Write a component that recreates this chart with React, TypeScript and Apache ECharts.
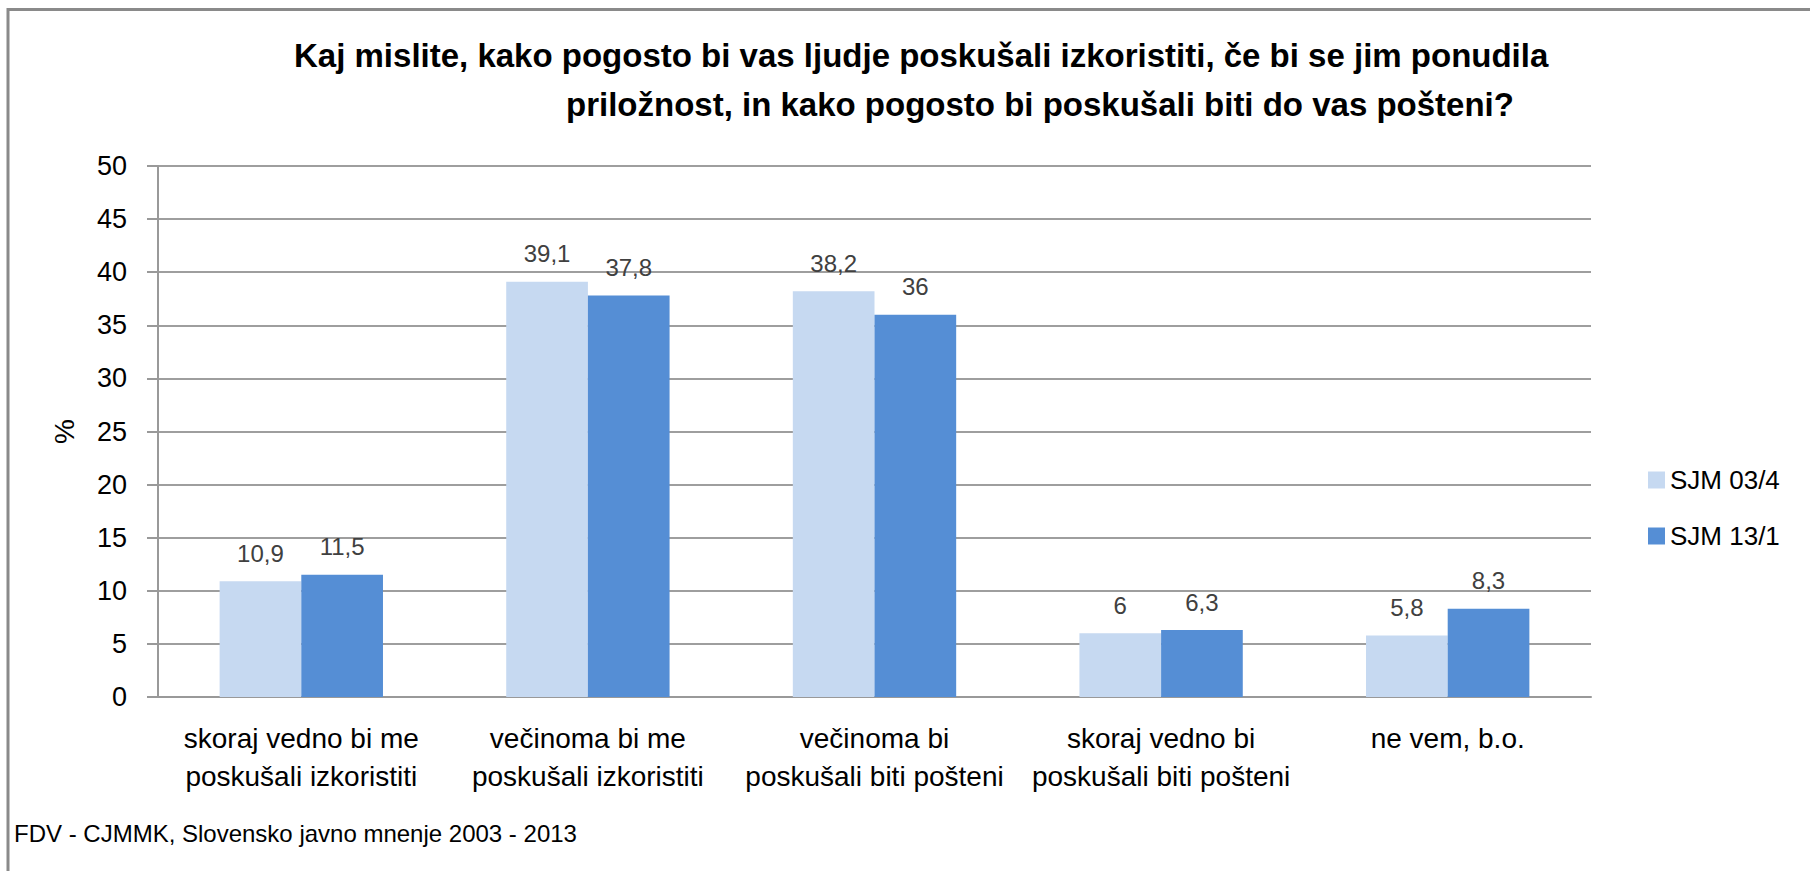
import React, { useEffect, useRef } from "react";
import * as echarts from "echarts";

const categories: string[] = [
  "skoraj vedno bi me\nposkušali izkoristiti",
  "večinoma bi me\nposkušali izkoristiti",
  "večinoma bi\nposkušali biti pošteni",
  "skoraj vedno bi\nposkušali biti pošteni",
  "ne vem, b.o.",
];
const seriesNames: string[] = ["SJM 03/4", "SJM 13/1"];
const sjm034: number[] = [10.9, 39.1, 38.2, 6, 5.8];
const sjm131: number[] = [11.5, 37.8, 36, 6.3, 8.3];
const yMin = 0;
const yMax = 50;
const yStep = 5;
const titleLine1 = "Kaj mislite, kako pogosto bi vas ljudje poskušali izkoristiti, če bi se jim ponudila";
const titleLine2 = "priložnost, in kako pogosto bi poskušali biti do vas pošteni?";
const sourceText = "FDV - CJMMK, Slovensko javno mnenje 2003 - 2013";
const yAxisName = "%";

const FONT = "'Liberation Sans', Arial, sans-serif";
const colors = ["#c6d9f1", "#558ed5"];

export default function App() {
  const ref = useRef<HTMLDivElement>(null);
  useEffect(() => {
    if (!ref.current) return;
    const chart = echarts.init(ref.current, undefined, { renderer: "svg" });
    const fmt = (p: any) => String(p.value).replace(".", ",");
    const mkSeries = (name: string, data: number[], color: string) => ({
      name,
      type: "bar",
      data,
      barGap: "0%",
      barCategoryGap: "43%",
      itemStyle: { color },
      label: {
        show: true,
        position: "top",
        distance: 16,
        formatter: fmt,
        color: "#404040",
        fontSize: 24,
        fontFamily: FONT,
      },
    });
    chart.setOption({
      animation: false,
      backgroundColor: "#ffffff",
      color: colors,
      grid: { left: 158, right: 219, top: 166, bottom: 174, containLabel: false },
      legend: {
        orient: "vertical",
        left: 1643,
        top: 461,
        itemWidth: 17,
        itemHeight: 17,
        itemGap: 28,
        icon: "rect",
        data: seriesNames,
        textStyle: { fontSize: 26, lineHeight: 28, color: "#000", fontFamily: FONT },
      },
      xAxis: {
        type: "category",
        data: categories,
        axisLine: { show: true, lineStyle: { color: "#999999", width: 2 } },
        axisTick: { show: false },
        axisLabel: {
          interval: 0,
          margin: 22,
          fontSize: 28,
          lineHeight: 38,
          color: "#000",
          fontFamily: FONT,
        },
      },
      yAxis: {
        type: "value",
        min: yMin,
        max: yMax,
        interval: yStep,
        name: yAxisName,
        nameLocation: "middle",
        nameGap: 80,
        nameTextStyle: { fontSize: 28, color: "#000", fontFamily: FONT },
        axisLine: { show: true, lineStyle: { color: "#999999", width: 2 } },
        axisTick: { show: true, length: 11, lineStyle: { color: "#999999", width: 2 } },
        axisLabel: { margin: 31, fontSize: 27, color: "#000", fontFamily: FONT },
        splitLine: { show: true, lineStyle: { color: "#9e9e9e", width: 2 } },
      },
      graphic: [
        {
          type: "rect",
          shape: { x: 8, y: 9.5, width: 1850, height: 900 },
          style: { fill: "none", stroke: "#8a8a8a", lineWidth: 3 },
          silent: true,
        },
        {
          type: "text",
          x: 294,
          y: 55,
          style: {
            text: titleLine1,
            fontSize: 33,
            fontWeight: "bold",
            fontFamily: FONT,
            fill: "#000",
            textAlign: "left",
            textVerticalAlign: "middle",
            align: "left",
            verticalAlign: "middle",
          },
        },
        {
          type: "text",
          x: 566,
          y: 104,
          style: {
            text: titleLine2,
            fontSize: 33,
            fontWeight: "bold",
            fontFamily: FONT,
            fill: "#000",
            textAlign: "left",
            textVerticalAlign: "middle",
            align: "left",
            verticalAlign: "middle",
          },
        },
        {
          type: "text",
          x: 14,
          y: 833,
          style: {
            text: sourceText,
            fontSize: 24,
            fontFamily: FONT,
            fill: "#000",
            textAlign: "left",
            textVerticalAlign: "middle",
            align: "left",
            verticalAlign: "middle",
          },
        },
      ],
      series: [
        mkSeries(seriesNames[0], sjm034, colors[0]),
        mkSeries(seriesNames[1], sjm131, colors[1]),
      ],
    });
    return () => chart.dispose();
  }, []);
  return (
    <div
      ref={ref}
      style={{ position: "fixed", left: 0, top: 0, width: 1810, height: 871 }}
    />
  );
}
